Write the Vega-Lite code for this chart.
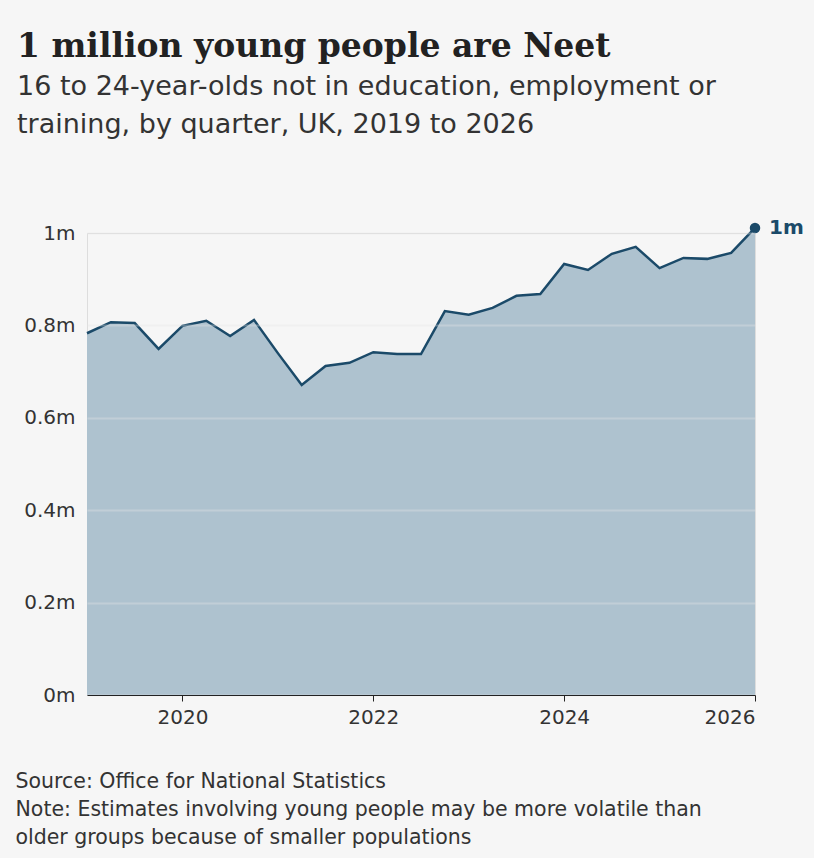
{
  "$schema": "https://vega.github.io/schema/vega-lite/v6.json",
  "width": 668,
  "height": 462,
  "autosize": "none",
  "padding": {"left": 87, "top": 233, "right": 59, "bottom": 163},
  "background": "#f6f6f6",
  "title": {
    "text": "1 million young people are Neet",
    "subtitle": ["16 to 24-year-olds not in education, employment or", "training, by quarter, UK, 2019 to 2026"],
    "anchor": "start", "frame": "group", "dx": -70, "offset": 80,
    "font": "DejaVu Serif", "fontSize": 33, "fontWeight": "bold", "color": "#222222",
    "subtitleFont": "DejaVu Sans", "subtitleFontSize": 27, "subtitleColor": "#333333",
    "subtitlePadding": 10, "subtitleLineHeight": 38
  },
  "data": {"values": [
    {"t": 2019.0, "v": 0.783}, {"t": 2019.25, "v": 0.807}, {"t": 2019.5, "v": 0.805}, {"t": 2019.75, "v": 0.749},
    {"t": 2020.0, "v": 0.799}, {"t": 2020.25, "v": 0.810}, {"t": 2020.5, "v": 0.777}, {"t": 2020.75, "v": 0.812},
    {"t": 2021.0, "v": 0.740}, {"t": 2021.25, "v": 0.671}, {"t": 2021.5, "v": 0.712}, {"t": 2021.75, "v": 0.719},
    {"t": 2022.0, "v": 0.742}, {"t": 2022.25, "v": 0.738}, {"t": 2022.5, "v": 0.738}, {"t": 2022.75, "v": 0.831},
    {"t": 2023.0, "v": 0.823}, {"t": 2023.25, "v": 0.838}, {"t": 2023.5, "v": 0.864}, {"t": 2023.75, "v": 0.868},
    {"t": 2024.0, "v": 0.933}, {"t": 2024.25, "v": 0.920}, {"t": 2024.5, "v": 0.955}, {"t": 2024.75, "v": 0.970},
    {"t": 2025.0, "v": 0.924}, {"t": 2025.25, "v": 0.946}, {"t": 2025.5, "v": 0.944}, {"t": 2025.75, "v": 0.957},
    {"t": 2026.0, "v": 1.011, "label": "1m"}
  ]},
  "encoding": {
    "x": {"field": "t", "type": "quantitative",
      "scale": {"domain": [2019, 2026], "nice": false, "zero": false},
      "axis": {"values": [2020, 2022, 2024, 2026], "format": "d", "grid": false, "zindex": 1,
        "domainColor": "#222222", "tickColor": "#222222", "tickSize": 6, "labelPadding": 6,
        "labelFont": "DejaVu Sans", "labelFontSize": 20, "labelColor": "#333333",
        "title": ["Source: Office for National Statistics", "Note: Estimates involving young people may be more volatile than", "older groups because of smaller populations"],
        "titleAnchor": "start", "titleAlign": "left", "titleX": -72, "titleY": 76,
        "titleFont": "DejaVu Sans", "titleFontSize": 20.5, "titleFontWeight": "normal", "titleColor": "#333333", "titleLineHeight": 28}},
    "y": {"field": "v", "type": "quantitative",
      "scale": {"domain": [0, 1], "nice": false},
      "axis": {"values": [0, 0.2, 0.4, 0.6, 0.8, 1], "labelExpr": "datum.value + 'm'", "zindex": 1,
        "domain": false, "ticks": false, "gridColor": "#e4e4e4", "gridOpacity": 0.35, "gridWidth": 2, "labelPadding": 12,
        "labelFont": "DejaVu Sans", "labelFontSize": 20, "labelColor": "#333333", "title": null}}
  },
  "layer": [
    {"mark": {"type": "area", "color": "#aec2cf", "clip": false}},
    {"mark": {"type": "line", "color": "#1b4a69", "strokeWidth": 2.5, "clip": false}},
    {"transform": [{"filter": "datum.label"}], "mark": {"type": "point", "filled": true, "opacity": 1, "size": 110, "color": "#1b4a69"}},
    {"transform": [{"filter": "datum.label"}], "mark": {"type": "text", "dx": 14, "align": "left", "font": "DejaVu Sans", "fontSize": 20, "fontWeight": "bold", "color": "#1b4a69"}, "encoding": {"text": {"field": "label"}}}
  ]
}
